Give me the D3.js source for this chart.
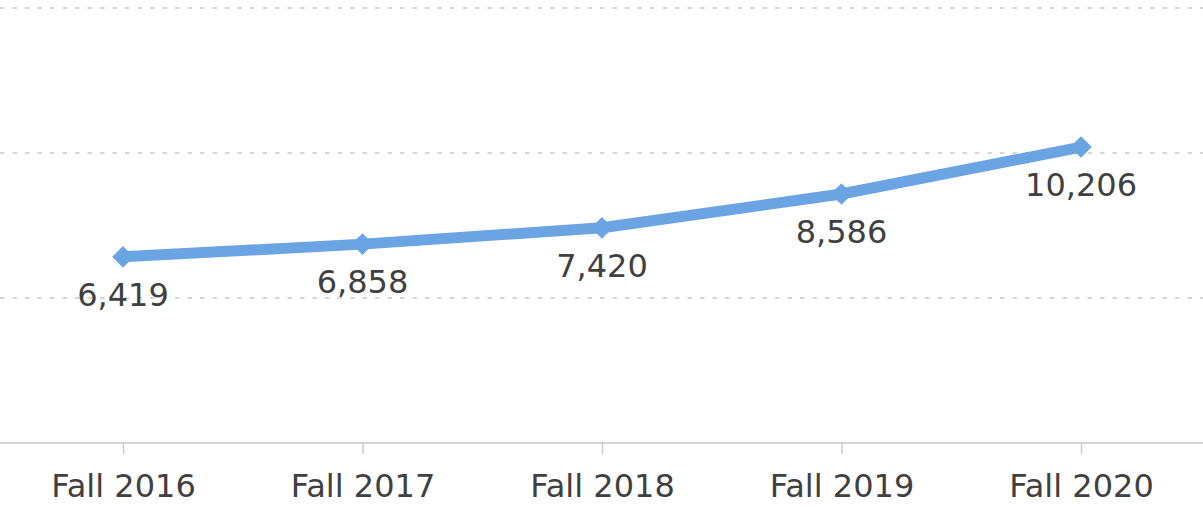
<!DOCTYPE html>
<html>
<head>
<meta charset="utf-8">
<script src="https://cdn.jsdelivr.net/npm/d3@7/dist/d3.min.js"></script>
<style>
  html, body { margin: 0; padding: 0; background: #fff; }
  svg { display: block; }
  text { font-family: "DejaVu Sans", Verdana, sans-serif; fill: #404040; }
</style>
</head>
<body>
<svg id="chart" width="1203" height="507"></svg>
<script>
// Enrollment by fall term
const terms = ["Fall 2016", "Fall 2017", "Fall 2018", "Fall 2019", "Fall 2020"];
const enrollment = [6419, 6858, 7420, 8586, 10206];
const gridValues = [5000, 10000, 15000];

const W = 1203, H = 507;
const svg = d3.select("#chart");

const x = d3.scalePoint().domain(terms).range([123, 1081]);
const y = d3.scaleLinear().domain([0, 15000]).range([443, 8]);

// dotted horizontal gridlines
svg.append("g")
  .selectAll("line")
  .data(gridValues)
  .join("line")
  .attr("x1", 0).attr("x2", W)
  .attr("y1", d => y(d)).attr("y2", d => y(d))
  .attr("stroke", "#d6d6d6")
  .attr("stroke-width", 2)
  .attr("stroke-dasharray", "4.5,8");

// x axis baseline with ticks and term labels
const xAxis = svg.append("g").attr("transform", `translate(0,${y(0)})`);
xAxis.append("line")
  .attr("x1", 0).attr("x2", W)
  .attr("stroke", "#d2d2d2").attr("stroke-width", 2);
xAxis.call(d3.axisBottom(x).tickSize(11).tickPadding(20))
  .call(g => g.select(".domain").remove())
  .call(g => g.selectAll(".tick line").attr("stroke", "#cccccc").attr("stroke-width", 1.5))
  .call(g => g.selectAll(".tick text")
    .attr("font-size", 32)
    .attr("fill", "#404040")
    .attr("font-family", "DejaVu Sans, Verdana, sans-serif"));

const pts = terms.map((t, i) => ({ term: t, value: enrollment[i] }));

// trend line
const line = d3.line().x(d => x(d.term)).y(d => y(d.value));
svg.append("path")
  .datum(pts)
  .attr("d", line)
  .attr("fill", "none")
  .attr("stroke", "#6aa4e2")
  .attr("stroke-width", 11)
  .attr("stroke-linejoin", "round");

// diamond markers
svg.append("g")
  .selectAll("path")
  .data(pts)
  .join("path")
  .attr("transform", d => `translate(${x(d.term)},${y(d.value)})`)
  .attr("d", d3.symbol(d3.symbolDiamond2, 300)())
  .attr("fill", "#6aa4e2");

// value labels below each point
svg.append("g")
  .selectAll("text")
  .data(pts)
  .join("text")
  .attr("x", d => x(d.term))
  .attr("y", d => y(d.value) + 49)
  .attr("text-anchor", "middle")
  .attr("font-size", 32)
  .text(d => d3.format(",")(d.value));
</script>
</body>
</html>
